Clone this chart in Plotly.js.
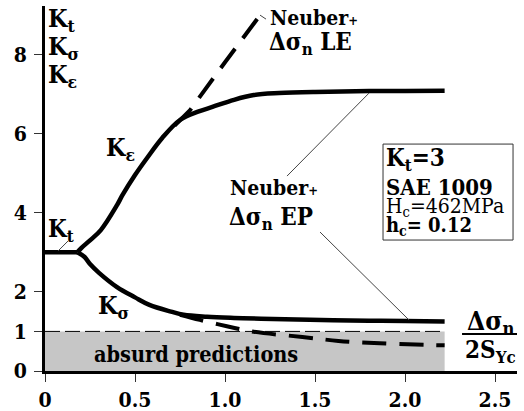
<!DOCTYPE html>
<html>
<head>
<meta charset="utf-8">
<script src="https://cdn.plot.ly/plotly-3.0.1.min.js"></script>
<style>
html,body{margin:0;padding:0;background:#fff;}
#chart{width:524px;height:411px;}
</style>
</head>
<body>
<div id="chart"></div>
<script>
// ---- data ----
const ktX = [0, 0.18];
const ktY = [3, 3];

const kEpsEpX = [0.18, 0.2, 0.25, 0.31, 0.4, 0.43, 0.5, 0.57, 0.65, 0.75, 0.85, 0.93, 1.05, 1.16, 1.3, 1.5, 1.8, 2.0, 2.22];
const kEpsEpY = [3.0, 3.1, 3.3, 3.56, 4.19, 4.44, 4.95, 5.4, 5.88, 6.34, 6.55, 6.67, 6.85, 6.97, 7.02, 7.05, 7.07, 7.07, 7.08];

const kEpsLeX = [0.72, 0.806, 1.0, 1.195];
const kEpsLeY = [6.2, 6.59, 7.8, 8.99];

const kSigEpX = [0.18, 0.22, 0.25, 0.3, 0.4, 0.5, 0.58, 0.7, 0.77, 0.9, 1.05, 1.2, 1.4, 1.6, 1.8, 2.0, 2.22];
const kSigEpY = [3.0, 2.88, 2.7, 2.48, 2.12, 1.86, 1.67, 1.5, 1.42, 1.37, 1.34, 1.32, 1.3, 1.28, 1.27, 1.26, 1.25];

const kSigLeX = [0.75, 0.86, 1.01, 1.16, 1.43, 1.63, 1.86, 2.11, 2.22];
const kSigLeY = [1.42, 1.29, 1.13, 0.99, 0.86, 0.76, 0.70, 0.66, 0.65];

const absurdX = [0, 2.22];
const absurdY = [0, 1];

const xTickVals = [0, 0.5, 1, 1.5, 2, 2.5];
const xTickText = ['0', '0.5', '1.0', '1.5', '2.0', '2.5'];
const yTickVals = [0, 1, 2, 4, 6, 8];
const yTickText = ['0', '1', '2', '4', '6', '8'];

// ---- layout helpers (pixel -> data for label placement) ----
const X0 = 45, XS = 180, Y0 = 371, YS = 39.6;
const dx = p => (p - X0) / XS;
const dy = p => (Y0 - p) / YS;

const FAM = '"DejaVu Serif Condensed", "DejaVu Serif", serif';
const solid = {color: '#000', width: 4.5};

const traces = [
  {x: ktX, y: ktY, mode: 'lines', line: solid, hoverinfo: 'skip'},
  {x: kEpsEpX, y: kEpsEpY, mode: 'lines', line: Object.assign({shape: 'spline'}, solid), hoverinfo: 'skip'},
  {x: kSigEpX, y: kSigEpY, mode: 'lines', line: Object.assign({shape: 'spline'}, solid), hoverinfo: 'skip'},
  {x: kEpsLeX, y: kEpsLeY, mode: 'lines', line: {color: '#000', width: 4, dash: '24px,13px'}, hoverinfo: 'skip'},
  {x: kSigLeX, y: kSigLeY, mode: 'lines', line: {color: '#000', width: 4, dash: '24px,13px', shape: 'spline'}, hoverinfo: 'skip'}
];

function ann(text, xpx, ypx, size, opts) {
  return Object.assign({
    text: text, x: dx(xpx), y: dy(ypx), xref: 'x', yref: 'y',
    showarrow: false, xanchor: 'left', yanchor: 'middle',
    font: {family: FAM, size: size, color: '#000'}
  }, opts || {});
}
const B = s => '<b>' + s + '</b>';

const annotations = [
  ann(B('K<sub>t</sub>'), 46, 20, 25),
  ann(B('K<sub>σ</sub>'), 46, 48, 25),
  ann(B('K<sub>ε</sub>'), 46, 76, 25),
  ann(B('K<sub>ε</sub>'), 104, 149, 25),
  ann(B('Neuber<span style="font-size:13px">+</span>'), 268, 17, 21),
  ann(B('Δσ<sub>n</sub> LE'), 267, 43, 24),
  ann(B('Neuber<span style="font-size:13px">+</span>'), 228, 187, 21),
  ann(B('Δσ<sub>n</sub> EP'), 227, 218, 24),
  ann(B('K<sub>t</sub>=3'), 384, 159, 24),
  ann(B('SAE 1009'), 384, 187, 22),
  ann('H<sub>c</sub>=462MPa', 384, 207, 21),
  ann(B('h<sub>c</sub>= 0.12'), 384, 226, 20),
  ann(B('K<sub>t</sub>'), 46, 230, 24),
  ann(B('K<sub>σ</sub>'), 96, 307, 25),
  ann(B('absurd predictions'), 196, 354, 21.5, {xanchor: 'center'}),
  ann(B('Δσ<sub>n</sub>'), 490, 322, 26, {xanchor: 'center'}),
  ann(B('2S<sub>Yc</sub>'), 490, 351, 24, {xanchor: 'center'})
];

const thin = {color: '#444', width: 1};
const shapes = [
  {type: 'rect', xref: 'x', yref: 'y', x0: absurdX[0], x1: absurdX[1], y0: absurdY[0], y1: absurdY[1],
   fillcolor: '#c6c6c6', line: {width: 0}, layer: 'below'},
  {type: 'line', xref: 'x', yref: 'y', x0: absurdX[0], x1: absurdX[1], y0: absurdY[1], y1: absurdY[1],
   line: {color: '#000', width: 1, dash: '15px,5px'}, layer: 'below'},
  {type: 'line', xref: 'x', yref: 'y', x0: dx(287), y0: dy(176), x1: dx(369), y1: dy(93), line: thin},
  {type: 'line', xref: 'x', yref: 'y', x0: dx(320), y0: dy(232), x1: dx(409), y1: dy(320), line: thin},
  {type: 'line', xref: 'x', yref: 'y', x0: dx(58), y0: dy(251), x1: dx(68), y1: dy(241), line: thin},
  {type: 'line', xref: 'x', yref: 'y', x0: dx(260), y0: dy(15), x1: dx(266), y1: dy(19), line: thin},
  {type: 'rect', xref: 'x', yref: 'y', x0: dx(383), x1: dx(513), y0: dy(240), y1: dy(144),
   line: {color: '#333', width: 1}, fillcolor: 'rgba(0,0,0,0)'},
  {type: 'line', xref: 'x', yref: 'y', x0: dx(462), x1: dx(517), y0: dy(334), y1: dy(334),
   line: {color: '#000', width: 2}}
];

const axisCommon = {
  showgrid: false, zeroline: false, showline: true, linecolor: '#000', linewidth: 3,
  ticks: 'outside', ticklen: 8, tickwidth: 1, tickcolor: '#333',
  tickfont: {family: FAM, size: 21, color: '#000'},
  fixedrange: true
};

const layout = {
  width: 524, height: 411,
  margin: {l: 45, r: 7, t: 6, b: 40},
  paper_bgcolor: '#fff', plot_bgcolor: '#fff',
  showlegend: false,
  font: {family: FAM},
  xaxis: Object.assign({}, axisCommon, {range: [0, 2.622], tickvals: xTickVals, ticktext: xTickText.map(B)}),
  yaxis: Object.assign({}, axisCommon, {range: [0, 9.22], tickvals: yTickVals, ticktext: yTickText.map(B), ticklabelstandoff: 3}),
  annotations: annotations,
  shapes: shapes
};

Plotly.newPlot('chart', traces, layout, {staticPlot: true, displayModeBar: false});
</script>
</body>
</html>
